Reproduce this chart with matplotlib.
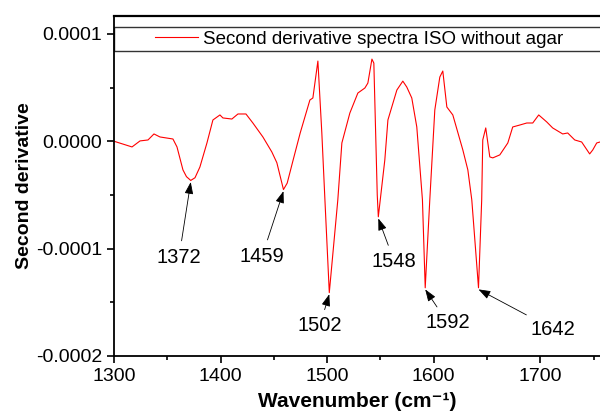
import matplotlib
matplotlib.use("Agg")
import matplotlib.pyplot as plt
from matplotlib.patches import Rectangle
from matplotlib.ticker import MultipleLocator, FormatStrFormatter

plt.rcParams['font.family'] = ['Liberation Sans', 'DejaVu Sans']

# second derivative spectrum (wavenumber in cm-1, value in units of 1e-5)
wavenumber = [1300, 1316.9, 1324.4, 1331.9, 1337.5, 1343.1, 1355.3, 1359.1,
              1364.7, 1368, 1372, 1376, 1380.6, 1387.2, 1392.8, 1399.4,
              1402.2, 1410.6, 1416.3, 1423.8, 1430.3, 1439.7, 1448.1, 1452.8,
              1459, 1462.5, 1468.1, 1474.7, 1483.8, 1486.6, 1491.3, 1495,
              1497.9, 1502, 1510, 1513.8, 1521.3, 1528.8, 1535.4, 1538.2,
              1542, 1543.8, 1547, 1548, 1554.1, 1557, 1565.4, 1571, 1574.7,
              1579.4, 1584.1, 1589.4, 1592, 1596.3, 1601, 1605.7, 1608.5,
              1612.3, 1617.9, 1627.3, 1632, 1635.7, 1642, 1645, 1646,
              1648.8, 1652.6, 1655.4, 1662, 1669.5, 1674.1, 1680.7, 1687.3,
              1692.9, 1698.5, 1706, 1711.6, 1721, 1725.7, 1732.3, 1738.8,
              1746.3, 1749.2, 1752.9, 1756]
second_deriv = [0.0, -0.53, 0.03, 0.12, 0.68, 0.40, 0.21, -0.53,
                -2.67, -3.3, -3.65, -3.4, -2.4, -0.16, 1.98, 2.45,
                2.17, 2.07, 2.54, 2.54, 1.70, 0.40, -1.0, -2.0,
                -4.5, -3.9, -1.74, 0.77, 3.84, 4.03, 7.47, 0.77,
                -5.46, -14.1, -5.46, -0.16, 2.63, 4.49, 4.96, 5.42,
                7.65, 7.28, -5.0, -7.04, -1.74, 1.98, 4.77, 5.6, 5.05,
                4.03, 1.33, -5.46, -13.65, -5.46, 2.91, 5.98, 6.54,
                3.19, 2.45, -0.81, -2.67, -5.46, -13.65, -5.46, 0.12,
                1.24, -1.46, -1.55, -1.27, -0.16, 1.33, 1.51, 1.70,
                1.70, 2.45, 1.80, 1.24, 0.68, 0.77, 0.12, -0.07,
                -1.18, -0.81, -0.16, -0.07]

# labelled minima: peak position, value (1e-5), label position (wavenumber, 1e-5)
peak_pos = [1372, 1459, 1502, 1548, 1592, 1642]
peak_val = [-3.65, -4.5, -14.1, -7.04, -13.65, -13.65]
label_x = [1361, 1439, 1493, 1563, 1613, 1712]
label_y = [-10.8, -10.7, -17.2, -11.2, -16.9, -17.5]

scale = 1e-5

fig = plt.figure(figsize=(6, 4.12), dpi=100)
ax = fig.add_axes([0.19, 0.136, 0.81, 0.825])

ax.plot(wavenumber, [v * scale for v in second_deriv], color='red', lw=0.8)

for p, v, lx, ly in zip(peak_pos, peak_val, label_x, label_y):
    ax.annotate(str(p), xy=(p, (v - 0.15) * scale), xytext=(lx, ly * scale),
                ha='center', va='center', fontsize=14.5,
                arrowprops=dict(arrowstyle='-|>,head_length=0.5,head_width=0.18',
                                color='black', lw=0.6, shrinkA=3, shrinkB=0))

ax.set_xlim(1300, 1756)
ax.set_ylim(-0.0002, 0.0001166)
ax.xaxis.set_major_locator(MultipleLocator(100))
ax.xaxis.set_minor_locator(MultipleLocator(50))
ax.yaxis.set_major_locator(MultipleLocator(0.0001))
ax.yaxis.set_minor_locator(MultipleLocator(0.00005))
ax.yaxis.set_major_formatter(FormatStrFormatter('%.4f'))
ax.tick_params(which='both', direction='out', width=1.2, labelsize=14)
ax.tick_params(which='major', length=5)
ax.tick_params(which='minor', length=3)
ax.spines['right'].set_visible(False)
for s in ['left', 'bottom']:
    ax.spines[s].set_linewidth(1.3)
ax.spines['top'].set_linewidth(1.6)

ax.set_xlabel('Wavenumber (cm⁻¹)', fontsize=15, fontweight='bold', labelpad=5)
ax.set_ylabel('Second derivative', fontsize=14, fontweight='bold', labelpad=2)

# legend band across the top of the plot
ax.add_patch(Rectangle((0, 0.897), 1.01, 0.071, transform=ax.transAxes,
                       fill=False, edgecolor='#333333', lw=1.0, clip_on=False))
ax.legend(['Second derivative spectra ISO without agar'], loc='center',
          bbox_to_anchor=(0.505, 0.932), frameon=False, fontsize=13.5,
          handlelength=2.3, handletextpad=0.27, borderpad=0)

fig.savefig('out.png', dpi=100)
